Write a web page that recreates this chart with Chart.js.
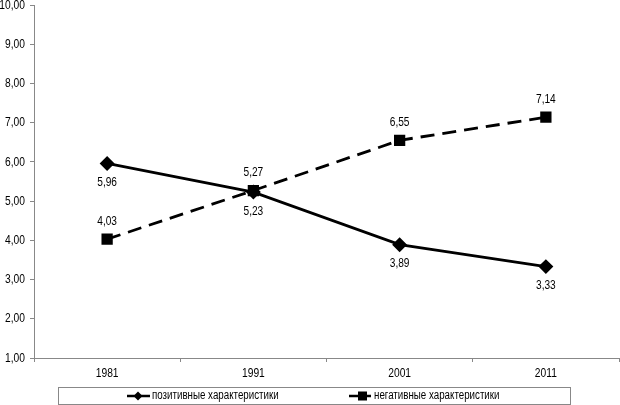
<!DOCTYPE html>
<html>
<head>
<meta charset="utf-8">
<script src="https://cdn.jsdelivr.net/npm/chart.js@4/dist/chart.umd.min.js"></script>
<style>
  body { margin: 0; background: #fff; }
  #wrap { width: 620px; height: 405px; }
</style>
</head>
<body>
<div id="wrap"><canvas id="myChart"></canvas></div>
<script>
const years = ["1981", "1991", "2001", "2011"];
const positive = [5.96, 5.23, 3.89, 3.33];
const negative = [4.03, 5.27, 6.55, 7.14];
const seriesNames = ["позитивные характеристики", "негативные характеристики"];
const yMin = 1, yMax = 10;

const FONT = "'Liberation Sans', Arial, sans-serif";
const SQUEEZE = 0.76; // narrow font look (Arial Narrow in the original)

function fmt(v) {
  return v.toFixed(2).replace(".", ",");
}

// condensed text helper
function narrowText(ctx, text, x, y, align, size, squeeze) {
  ctx.save();
  ctx.font = size + "px " + FONT;
  ctx.textAlign = align;
  ctx.textBaseline = "middle";
  ctx.translate(x, y);
  ctx.scale(squeeze || SQUEEZE, 1);
  ctx.fillText(text, 0, 0);
  ctx.restore();
}

// axis tick labels drawn narrow
const narrowTicks = {
  id: "narrowTicks",
  afterDraw(chart) {
    const ctx = chart.ctx;
    ctx.fillStyle = "#000";
    const ys = chart.scales.y, xs = chart.scales.x;
    ys.ticks.forEach(t => {
      narrowText(ctx, fmt(t.value), ys.right - 9, ys.getPixelForValue(t.value), "right", 13.5);
    });
    xs.ticks.forEach((t, i) => {
      narrowText(ctx, years[i], xs.getPixelForTick(i), xs.top + 15, "center", 13.5);
    });
  }
};

// value labels: positive below the point, negative above
const valueLabels = {
  id: "valueLabels",
  afterDatasetsDraw(chart) {
    const ctx = chart.ctx;
    ctx.fillStyle = "#000";
    chart.data.datasets.forEach((ds, i) => {
      const meta = chart.getDatasetMeta(i);
      meta.data.forEach((pt, j) => {
        const dy = i === 0 ? 19 : -18;
        narrowText(ctx, fmt(ds.data[j]), pt.x, pt.y + dy, "center", 13, 0.78);
      });
    });
  }
};

// legend in a box at the bottom, line + marker samples
const boxLegend = {
  id: "boxLegend",
  afterDraw(chart) {
    const ctx = chart.ctx;
    ctx.save();
    ctx.strokeStyle = "#888";
    ctx.lineWidth = 1;
    ctx.strokeRect(58.5, 387.5, 512, 17);

    ctx.fillStyle = "#000";
    ctx.strokeStyle = "#000";
    ctx.lineWidth = 2.5;
    const y = 396;

    // positive
    ctx.beginPath(); ctx.moveTo(127, y); ctx.lineTo(150, y); ctx.stroke();
    ctx.beginPath();
    ctx.moveTo(138, y - 4.5); ctx.lineTo(142.5, y); ctx.lineTo(138, y + 4.5); ctx.lineTo(133.5, y);
    ctx.closePath(); ctx.fill();
    narrowText(ctx, seriesNames[0], 152, y, "left", 12.5, 0.78);

    // negative
    ctx.beginPath(); ctx.moveTo(349, y); ctx.lineTo(371, y); ctx.stroke();
    ctx.fillRect(358, y - 4.5, 9, 9);
    narrowText(ctx, seriesNames[1], 374, y, "left", 12.5, 0.78);
    ctx.restore();
  }
};

const ctx = document.getElementById("myChart");
new Chart(ctx, {
  type: "line",
  data: {
    labels: years,
    datasets: [
      {
        label: seriesNames[0],
        data: positive,
        borderColor: "#000",
        backgroundColor: "#000",
        borderWidth: 2.8,
        pointStyle: "rectRot",
        pointRadius: 5.5,
        pointHoverRadius: 5.5,
        tension: 0
      },
      {
        label: seriesNames[1],
        data: negative,
        borderColor: "#000",
        backgroundColor: "#000",
        borderWidth: 2.8,
        borderDash: [14, 8],
        pointStyle: "rect",
        pointRadius: 6,
        pointHoverRadius: 6,
        tension: 0
      }
    ]
  },
  plugins: [narrowTicks, valueLabels, boxLegend],
  options: {
    responsive: true,
    maintainAspectRatio: false,
    animation: false,
    layout: { autoPadding: false, padding: { top: 5, right: 1, bottom: 0, left: 0 } },
    plugins: {
      legend: { display: false },
      tooltip: { enabled: false }
    },
    scales: {
      x: {
        offset: true,
        grid: { drawOnChartArea: false, drawTicks: true, tickLength: 4, color: "#888", offset: true },
        border: { color: "#888", width: 1 },
        ticks: { display: false },
        afterFit: s => { s.height = 47; }
      },
      y: {
        min: yMin,
        max: yMax,
        grid: { drawOnChartArea: false, drawTicks: true, tickLength: 4, color: "#888" },
        border: { color: "#888", width: 1 },
        ticks: { display: false, stepSize: 1 },
        afterFit: s => { s.width = 34; }
      }
    }
  }
});
</script>
</body>
</html>
